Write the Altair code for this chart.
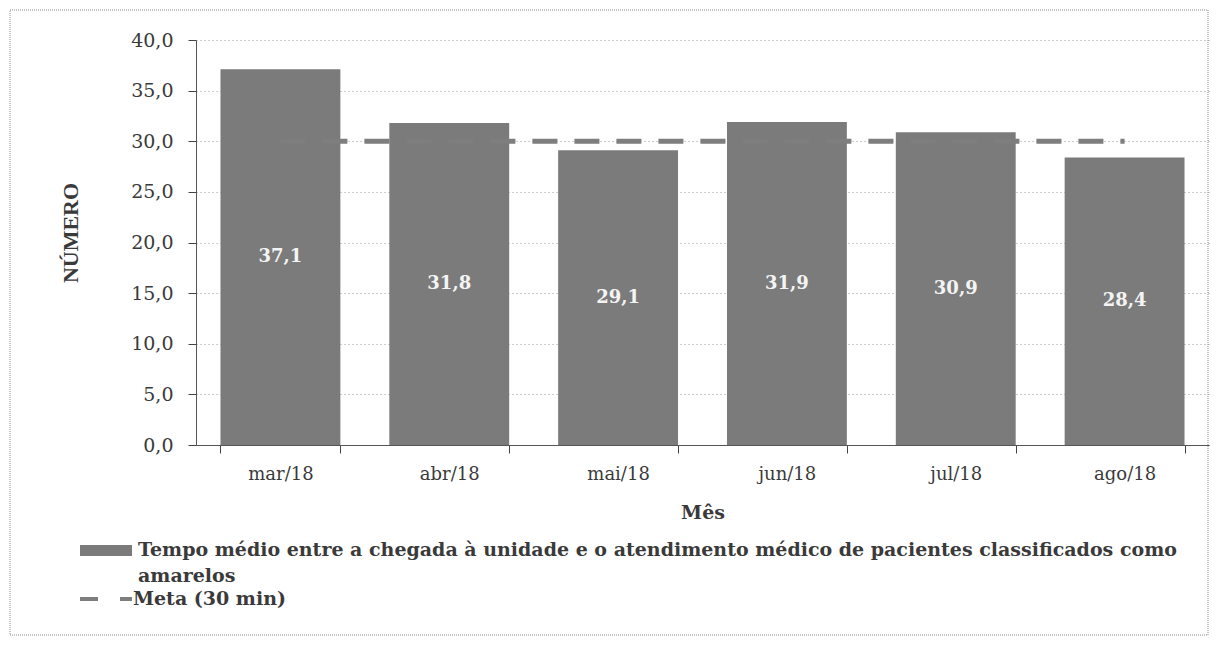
import altair as alt
import pandas as pd

months = ["mar/18", "abr/18", "mai/18", "jun/18", "jul/18", "ago/18"]
values = [37.1, 31.8, 29.1, 31.9, 30.9, 28.4]
meta = [30.0, 30.0, 30.0, 30.0, 30.0, 30.0]
y_ticks = [0, 5, 10, 15, 20, 25, 30, 35, 40]
legend_bar = "Tempo médio entre a chegada à unidade e o atendimento médico de pacientes classificados como"
legend_bar2 = "amarelos"
legend_line = "Meta (30 min)"
y_title = "NÚMERO"
x_title = "Mês"

FONT = "DejaVu Serif"
VFONT = "Liberation Serif"
BAR = "#7b7b7b"
LINE = "#7e7e7e"
TXT = "#3a3a3a"

df = pd.DataFrame({
    "mes": months,
    "valor": values,
    "meta": meta,
    "metade": [v / 2 for v in values],
    "rotulo": [f"{v:.1f}".replace(".", ",") for v in values],
})
one = pd.DataFrame({"k": [0]})

W, H = 1013, 405

x = alt.X("mes:N", sort=months,
          scale=alt.Scale(paddingInner=0.29, paddingOuter=0.145),
          axis=alt.Axis(title=x_title, labelAngle=0, tickBand="extent",
                        labelFont=FONT, labelFontSize=18, labelColor=TXT,
                        labelPadding=12, tickSize=8, tickColor="#444",
                        domainColor="#555", grid=False,
                        titleFont=FONT, titleFontSize=19, titleFontWeight="bold",
                        titleColor=TXT, titleX=W / 2, titleY=67,
                        titleBaseline="middle", titleAlign="center"))

y = alt.Y("valor:Q",
          scale=alt.Scale(domain=[0, 40], nice=False),
          axis=alt.Axis(title=y_title, values=y_ticks,
                        labelExpr="replace(format(datum.value, '.1f'), '.', ',')",
                        labelFont=FONT, labelFontSize=19, labelColor=TXT,
                        labelPadding=15, tickSize=8, tickColor="#444",
                        domainColor="#555",
                        grid=True, gridColor="#9a9a9a", gridDash=[1, 3],
                        gridWidth=1,
                        titleFont=VFONT, titleFontSize=22, titleFontWeight="bold",
                        titleColor=TXT, titleX=-126, titleY=H / 2 - 10,
                        titleAngle=-90, titleBaseline="middle", titleAlign="center"))

base = alt.Chart(df)

bars = base.mark_bar(color=BAR).encode(x=x, y=y)

line = base.mark_line(color=LINE, strokeWidth=5, strokeDash=[25, 17]).encode(
    x=alt.X("mes:N", sort=months), y=alt.Y("meta:Q"))

labels = base.mark_text(color="#f4f4f4", font=FONT, fontSize=18,
                        fontWeight="bold", baseline="middle").encode(
    x=alt.X("mes:N", sort=months), y=alt.Y("metade:Q"), text="rotulo:N")

leg_swatch = alt.Chart(one).mark_rect(color=BAR).encode(
    x=alt.value(-116), x2=alt.value(-64), y=alt.value(505), y2=alt.value(516))
leg_text1 = alt.Chart(one).mark_text(font=FONT, fontSize=19, fontWeight="bold",
                                     color=TXT, align="left", baseline="middle").encode(
    x=alt.value(-58), y=alt.value(510), text=alt.value(legend_bar))
leg_text2 = alt.Chart(one).mark_text(font=FONT, fontSize=19, fontWeight="bold",
                                     color=TXT, align="left", baseline="middle").encode(
    x=alt.value(-58), y=alt.value(536), text=alt.value(legend_bar2))
leg_line = alt.Chart(one).mark_rule(color=LINE, strokeWidth=4, strokeDash=[18, 22]).encode(
    x=alt.value(-116), x2=alt.value(-64), y=alt.value(559))
leg_text3 = alt.Chart(one).mark_text(font=FONT, fontSize=19, fontWeight="bold",
                                     color=TXT, align="left", baseline="middle").encode(
    x=alt.value(-63), y=alt.value(559), text=alt.value(legend_line))

border = alt.Chart(one).mark_rect(fill="white", fillOpacity=0, stroke="#8a8a8a",
                                  strokeWidth=1, strokeDash=[1, 1]).encode(
    x=alt.value(-186), x2=alt.value(1012), y=alt.value(-30), y2=alt.value(595))

chart = alt.layer(bars, line, labels, leg_swatch, leg_text1, leg_text2,
                  leg_line, leg_text3, border).properties(
    width=W, height=H,
    autosize=alt.AutoSizeParams(type="none"),
    padding={"left": 188, "top": 32, "right": 5, "bottom": 192},
    background="white",
).configure_view(stroke=None)

chart.save("out.html", embed_options={"renderer": "svg", "actions": False})
